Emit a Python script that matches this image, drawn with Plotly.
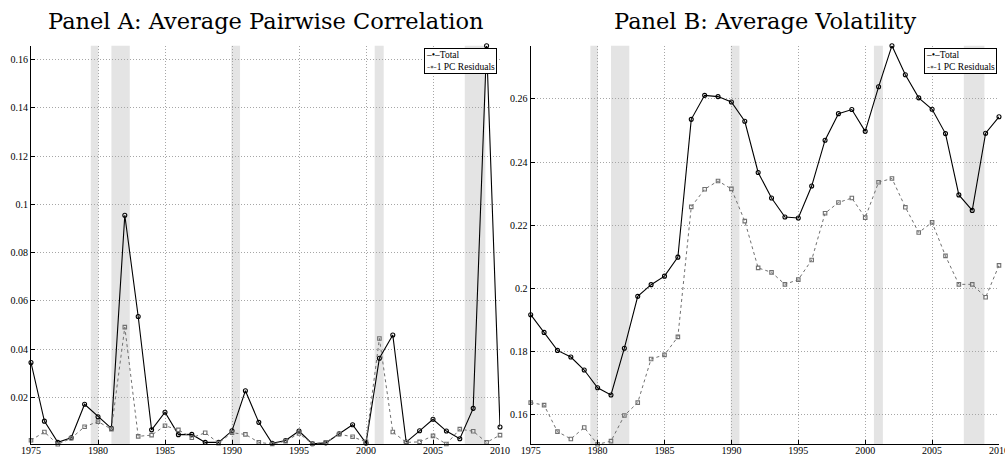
import plotly.graph_objects as go

years = list(range(1975, 2011))

# Panel A: average pairwise correlation
corr_total = [0.0344, 0.0101, 0.0013, 0.0032, 0.0171, 0.0119, 0.0071, 0.0955, 0.0535, 0.0065,
              0.0138, 0.0045, 0.0046, 0.0013, 0.0013, 0.0061, 0.0227, 0.0096, 0.0009, 0.0021,
              0.0060, 0.0007, 0.0011, 0.0049, 0.0086, 0.0010, 0.0362, 0.0458, 0.0014, 0.0061,
              0.0109, 0.0060, 0.0028, 0.0154, 0.1658, 0.0077]
corr_resid = [0.0022, 0.0056, 0.0005, 0.0030, 0.0078, 0.0099, 0.0068, 0.0491, 0.0038, 0.0043,
              0.0082, 0.0065, 0.0032, 0.0053, 0.0010, 0.0053, 0.0046, 0.0013, 0.0006, 0.0018,
              0.0050, 0.0007, 0.0013, 0.0047, 0.0036, 0.0015, 0.0444, 0.0056, 0.0013, 0.0015,
              0.0040, 0.0006, 0.0068, 0.0059, 0.0013, 0.0043]

# Panel B: average volatility
vol_total = [0.1917, 0.1861, 0.1804, 0.1783, 0.1742, 0.1686, 0.1663, 0.1811, 0.1975, 0.2012,
             0.2039, 0.2099, 0.2535, 0.2611, 0.2607, 0.2590, 0.2529, 0.2367, 0.2286, 0.2226,
             0.2223, 0.2324, 0.2469, 0.2553, 0.2566, 0.2497, 0.2638, 0.2768, 0.2676, 0.2603,
             0.2567, 0.2490, 0.2296, 0.2247, 0.2491, 0.2543]
vol_resid = [0.1639, 0.1631, 0.1547, 0.1524, 0.1560, 0.1507, 0.1517, 0.1598, 0.1639, 0.1777,
             0.1790, 0.1847, 0.2258, 0.2314, 0.2340, 0.2315, 0.2213, 0.2065, 0.2051, 0.2013,
             0.2028, 0.2090, 0.2238, 0.2272, 0.2286, 0.2224, 0.2336, 0.2348, 0.2257, 0.2177,
             0.2209, 0.2103, 0.2013, 0.2013, 0.1972, 0.2073]

# Recession shading (years)
rec_start = [1979.46, 1981.0, 1989.95, 2000.65, 2007.37]
rec_end = [1980.03, 1982.37, 1990.6, 2001.32, 2008.91]

x_ticks = [1975, 1980, 1985, 1990, 1995, 2000, 2005, 2010]
x_ticktext = ["1975", "1980", "1985", "1990", "1995", "2000", "2005", "2010"]
ya_ticks = [0.02, 0.04, 0.06, 0.08, 0.1, 0.12, 0.14, 0.16]
ya_ticktext = ["0.02", "0.04", "0.06", "0.08", "0.1", "0.12", "0.14", "0.16"]
yb_ticks = [0.16, 0.18, 0.2, 0.22, 0.24, 0.26]
yb_ticktext = ["0.16", "0.18", "0.2", "0.22", "0.24", "0.26"]

titles = ["Panel A: Average Pairwise Correlation", "Panel B: Average Volatility"]
series_names = ["Total", "1 PC Residuals"]

W, H = 1005, 458
SERIF = "Liberation Serif, Times New Roman, serif"
tick_font = dict(family=SERIF, size=10, color="black")
TOTAL_COLOR = "black"
RESID_COLOR = "#707070"
GRID_COLOR = "#a6a6a6"

fig = go.Figure()

panels = [
    ("x", "y", corr_total, corr_resid),
    ("x2", "y2", vol_total, vol_resid),
]
for xa, ya, tot, res in panels:
    fig.add_trace(go.Scatter(
        x=years, y=tot, name=series_names[0], xaxis=xa, yaxis=ya, showlegend=False,
        mode="lines+markers", cliponaxis=False,
        line=dict(color=TOTAL_COLOR, width=1.1),
        marker=dict(symbol="circle-open", size=4, color=TOTAL_COLOR, line=dict(width=1.1)),
    ))
    fig.add_trace(go.Scatter(
        x=years, y=res, name=series_names[1], xaxis=xa, yaxis=ya, showlegend=False,
        mode="lines+markers", cliponaxis=False,
        line=dict(color=RESID_COLOR, width=1, dash="3px,3px"),
        marker=dict(symbol="square-open", size=3.5, color=RESID_COLOR, line=dict(width=1.1)),
    ))
    for s, e in zip(rec_start, rec_end):
        fig.add_shape(type="rect", xref=xa, yref=f"{ya} domain", x0=s, x1=e, y0=0, y1=1,
                      fillcolor="#e4e4e4", line=dict(width=0), layer="below")

ydom = [13.7 / H, 1 - 45.7 / H]
xdomA = [31 / W, 500 / W]
xdomB = [530.7 / W, 999 / W]

common_x = dict(range=[1975, 2010], tickvals=x_ticks, ticktext=x_ticktext, automargin=False,
                showgrid=True, gridcolor=GRID_COLOR, griddash="1px,2px", gridwidth=1,
                showline=True, linecolor="black", linewidth=1.2, mirror=False,
                ticks="inside", ticklen=4, tickcolor="black", tickfont=tick_font,
                ticklabelstandoff=-3, ticklabeloverflow="allow", zeroline=False)
common_y = dict(showgrid=True, gridcolor=GRID_COLOR, griddash="1px,2px", gridwidth=1, automargin=False,
                showline=True, linecolor="black", linewidth=1.2, mirror=False,
                ticks="inside", ticklen=4, tickcolor="black", tickfont=tick_font,
                ticklabeloverflow="allow", zeroline=False)

yA_range = [min(corr_total + corr_resid), max(corr_total + corr_resid)]
yB_range = [min(vol_total + vol_resid), max(vol_total + vol_resid)]

# compact boxed legend (text key), as in the original figure
legend_text = (f"<span style='color:{TOTAL_COLOR}'>–•–</span>{series_names[0]}<br>"
               f"<span style='color:{RESID_COLOR}'>-▪-</span>{series_names[1]}")

legend_box = dict(text=legend_text, xref="paper", yref="paper", xanchor="right", yanchor="top",
                  align="left", showarrow=False, bgcolor="white", bordercolor="black",
                  borderwidth=1, borderpad=1, font=dict(family=SERIF, size=9.5, color="black"))
title_font = dict(family="DejaVu Serif, serif", size=22.5, color="black")

fig.update_layout(
    width=W, height=H,
    margin=dict(l=0, r=0, t=0, b=0),
    paper_bgcolor="white", plot_bgcolor="white",
    showlegend=False,
    xaxis=dict(domain=xdomA, anchor="y", **common_x),
    yaxis=dict(domain=ydom, anchor="x", range=yA_range, tickvals=ya_ticks, ticktext=ya_ticktext, **common_y),
    xaxis2=dict(domain=xdomB, anchor="y2", **common_x),
    yaxis2=dict(domain=ydom, anchor="x2", range=yB_range, tickvals=yb_ticks, ticktext=yb_ticktext, **common_y),
    annotations=[
        dict(text=titles[0], x=(xdomA[0] + xdomA[1]) / 2, y=1 - 21 / H, xref="paper", yref="paper",
             xanchor="center", yanchor="middle", showarrow=False, font=title_font),
        dict(text=titles[1], x=(xdomB[0] + xdomB[1]) / 2, y=1 - 21 / H, xref="paper", yref="paper",
             xanchor="center", yanchor="middle", showarrow=False, font=title_font),
        dict(x=497.3 / W, y=1 - 48.3 / H, **legend_box),
        dict(x=996.7 / W, y=1 - 48.3 / H, **legend_box),
    ],
)

fig.write_html("out.html")
